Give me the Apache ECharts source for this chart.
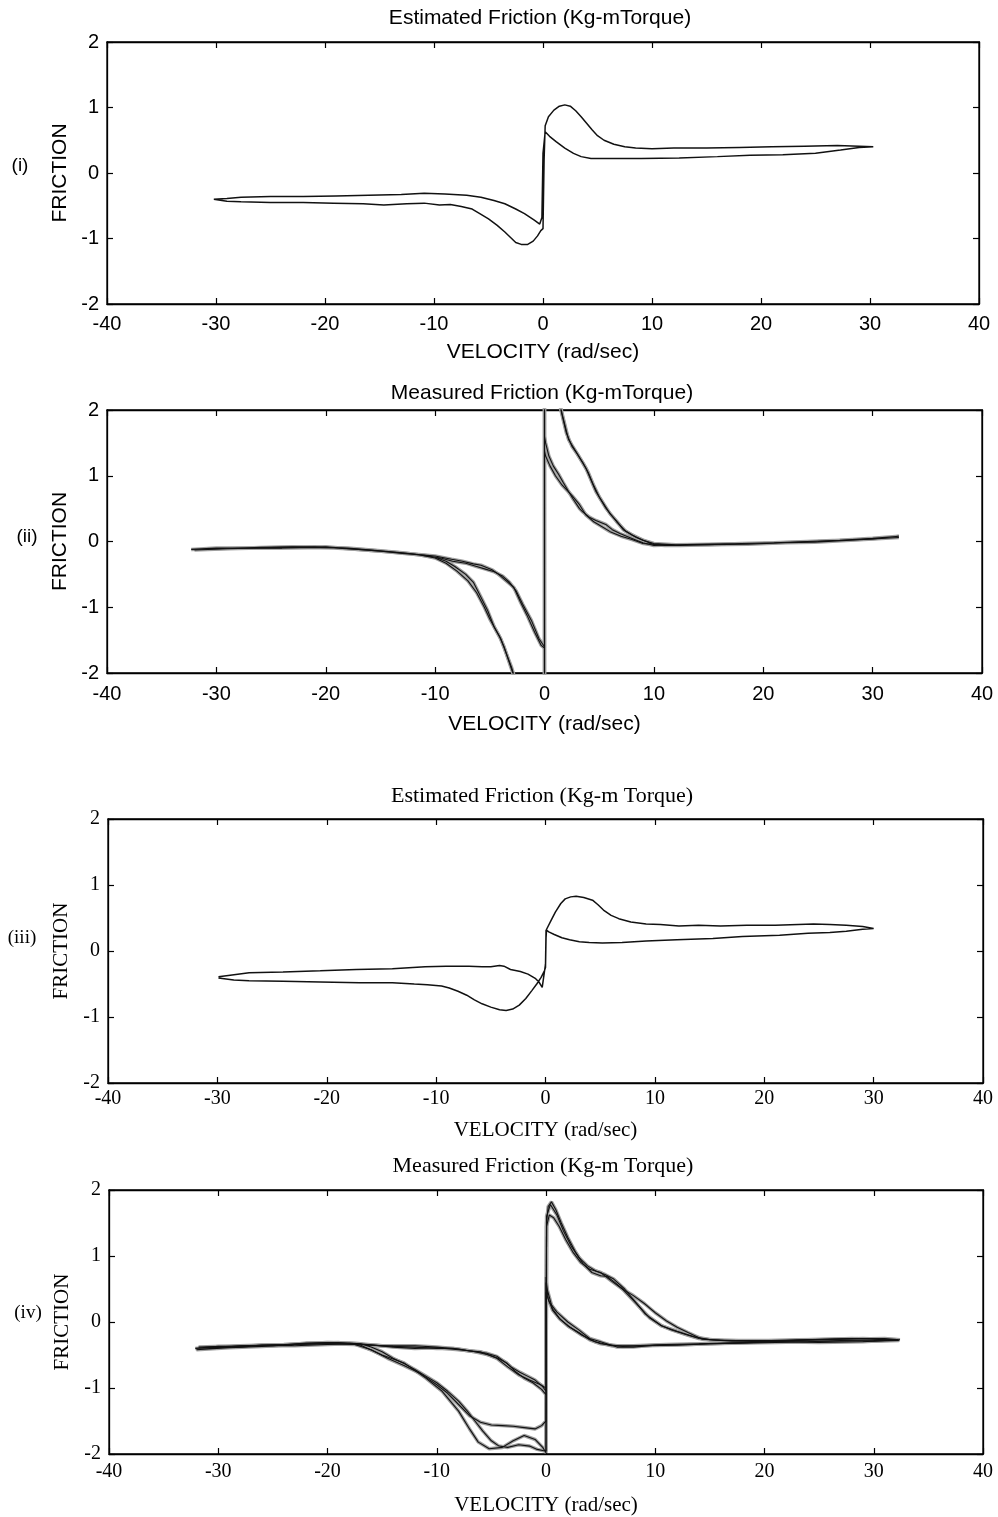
<!DOCTYPE html>
<html><head><meta charset="utf-8">
<script src="https://cdn.jsdelivr.net/npm/echarts@6/dist/echarts.min.js"></script>
<style>html,body{margin:0;padding:0;background:#fff}#c{width:998px;height:1517px}</style>
</head><body><div id="c"></div>
<script>
// ---------- tick labels / categories ----------
const xTicks = [-40, -30, -20, -10, 0, 10, 20, 30, 40];
const yTicks = [-2, -1, 0, 1, 2];
const panelTitles = ["Estimated Friction (Kg-mTorque)", "Measured Friction (Kg-mTorque)", "Estimated Friction (Kg-m Torque)", "Measured Friction (Kg-m Torque)"];
const panelTags = ["(i)", "(ii)", "(iii)", "(iv)"];
const xName = "VELOCITY (rad/sec)";
const yName = "FRICTION";

// ---------- series values: [velocity, friction] ----------
const p1Loop = [
[-30.2,-0.40],[-29,-0.43],[-27.7,-0.44],[-25,-0.45],[-22,-0.45],[-19.2,-0.46],[-16.5,-0.47],[-14.6,-0.49],[-12.5,-0.47],[-10.9,-0.46],[-9.5,-0.49],[-8.5,-0.48],[-7.5,-0.51],[-6.5,-0.55],[-5.8,-0.62],[-5,-0.7],[-4.2,-0.8],[-3.5,-0.9],[-3,-0.98],[-2.5,-1.06],[-2,-1.09],[-1.4,-1.09],[-0.9,-1.04],[-0.5,-0.96],[-0.2,-0.88],[0,-0.85],[0.1,0.2],[0.2,0.72],[0.5,0.86],[1,0.96],[1.5,1.02],[2,1.04],[2.5,1.02],[3,0.95],[3.5,0.86],[4,0.76],[4.5,0.66],[5,0.57],[5.6,0.5],[6.5,0.44],[7.5,0.4],[8.5,0.38],[10,0.37],[12,0.38],[15,0.38],[18,0.39],[21,0.4],[24,0.41],[27,0.42],[29,0.41],[30.3,0.4],
[29,0.39],[27.3,0.35],[25,0.3],[22,0.28],[19,0.27],[16,0.25],[12.5,0.23],[9,0.22],[6,0.22],[4.4,0.22],[3.5,0.25],[2.8,0.3],[2,0.38],[1.2,0.48],[0.6,0.56],[0.2,0.63],[0,0.3],[-0.1,-0.68],[-0.3,-0.78],[-0.8,-0.72],[-1.7,-0.62],[-2.5,-0.55],[-3.5,-0.47],[-4.5,-0.42],[-5.7,-0.37],[-7,-0.34],[-9,-0.32],[-10.9,-0.31],[-13,-0.33],[-16,-0.34],[-19,-0.35],[-22,-0.36],[-25,-0.36],[-27.7,-0.37],[-29,-0.39],[-30.2,-0.40]
];

const p2LoopA = [
[-32.3,-0.12],[-30,-0.1],[-27,-0.1],[-24,-0.09],[-21,-0.08],[-18,-0.1],[-15,-0.14],[-13,-0.17],[-11.5,-0.2],[-10,-0.25],[-9,-0.33],[-8,-0.45],[-7,-0.6],[-6.2,-0.78],[-5.5,-1.0],[-5,-1.18],[-4.5,-1.33],[-4,-1.48],[-3.5,-1.7],[-3,-1.92],[-2.5,-2.2],[-1,-2.6],[0,-2.6],[0,2.6],[1,2.4],[1.5,2.0],[2,1.65],[2.5,1.45],[3,1.33],[3.5,1.2],[4,1.05],[4.5,0.85],[5,0.68],[5.5,0.55],[6,0.42],[6.6,0.31],[7.2,0.18],[8,0.1],[9,0.02],[10,-0.03],[12,-0.05],[15,-0.05],[18,-0.03],[21,-0.02],[24,0],[27,0.02],[30,0.05],[32.4,0.08],
[30,0.04],[27,0.02],[24,0],[21,-0.02],[18,-0.03],[15,-0.04],[12,-0.05],[10,-0.06],[9,-0.02],[8.4,0.02],[7.5,0.08],[6.9,0.12],[6.2,0.18],[5.6,0.26],[4.7,0.32],[4.1,0.37],[3.5,0.45],[3.2,0.5],[2.6,0.65],[2.2,0.76],[1.7,0.9],[1.3,1.02],[0.8,1.15],[0.4,1.3],[0.1,1.5],[0,1.6],[0,-1.62],[-0.3,-1.58],[-0.9,-1.38],[-1.6,-1.12],[-2.2,-0.92],[-2.8,-0.7],[-3.5,-0.6],[-4.2,-0.5],[-4.8,-0.43],[-5.8,-0.36],[-6.5,-0.34],[-7.5,-0.3],[-8.5,-0.27],[-10,-0.22],[-12,-0.19],[-14,-0.16],[-17,-0.12],[-20,-0.08],[-24,-0.1],[-28,-0.1],[-32.3,-0.12]
];
const p2LoopB = [
[-32,-0.13],[-29,-0.11],[-26,-0.09],[-23,-0.08],[-20,-0.09],[-17,-0.12],[-14,-0.16],[-12,-0.19],[-10,-0.24],[-9,-0.3],[-8.2,-0.38],[-7.2,-0.5],[-6.5,-0.62],[-5.8,-0.85],[-5.2,-1.05],[-4.6,-1.3],[-4.1,-1.45],[-3.7,-1.6],[-3.3,-1.8],[-2.9,-2.0],[-2.5,-2.3],[0,-2.6],[0,2.6],[1.2,2.3],[1.6,1.95],[2.2,1.55],[2.9,1.36],[3.8,1.11],[4.7,0.76],[5.6,0.51],[6.6,0.3],[7.4,0.16],[8.4,0.06],[9.9,-0.04],[12.4,-0.06],[15,-0.05],[18.6,-0.04],[22,-0.02],[24.7,-0.01],[28,0.02],[32.4,0.06],
[29,0.03],[25,0],[20,-0.03],[15,-0.05],[11,-0.06],[9,-0.03],[8,0.03],[7,0.08],[6,0.15],[5,0.25],[4.5,0.3],[3.8,0.4],[3.2,0.56],[2.5,0.7],[1.6,0.86],[1,1.0],[0.5,1.15],[0.1,1.3],[0,1.38],[0,-1.6],[-0.5,-1.48],[-1.2,-1.2],[-2,-0.95],[-2.6,-0.75],[-3.2,-0.62],[-3.8,-0.53],[-4.6,-0.46],[-5.4,-0.42],[-6.2,-0.38],[-7.2,-0.33],[-8.4,-0.3],[-9.5,-0.25],[-11,-0.21],[-13,-0.18],[-16,-0.13],[-19,-0.1],[-22,-0.09],[-26,-0.1],[-29,-0.11],[-32,-0.13]
];

const p3Loop = [
[-29.9,-0.41],[-28.5,-0.44],[-27.1,-0.45],[-24,-0.46],[-20.6,-0.47],[-17,-0.48],[-14,-0.48],[-12,-0.5],[-10.8,-0.51],[-9.5,-0.53],[-8.8,-0.56],[-8,-0.61],[-7.2,-0.67],[-6.5,-0.74],[-5.8,-0.8],[-5,-0.85],[-4.2,-0.89],[-3.6,-0.9],[-3,-0.88],[-2.4,-0.82],[-1.8,-0.72],[-1.25,-0.6],[-0.8,-0.5],[-0.4,-0.4],[-0.1,-0.3],[0,-0.25],[0.05,0.2],[0.1,0.33],[0.5,0.46],[0.9,0.59],[1.4,0.72],[1.8,0.79],[2.3,0.82],[2.8,0.83],[3.5,0.81],[4.3,0.77],[4.8,0.7],[5.3,0.62],[6,0.54],[6.7,0.49],[7.8,0.44],[9.2,0.41],[10.5,0.4],[12.2,0.38],[14,0.39],[16,0.38],[18.4,0.39],[21,0.39],[24.5,0.41],[26,0.4],[27.5,0.39],[29,0.37],[30,0.34],
[29,0.33],[27.5,0.3],[26,0.28],[24,0.27],[21.4,0.24],[18,0.22],[15.3,0.19],[12,0.17],[9.2,0.15],[7,0.13],[5.2,0.12],[4,0.13],[3.1,0.14],[2.2,0.17],[1.5,0.2],[0.8,0.25],[0.3,0.29],[0.05,0.32],[0,-0.2],[-0.3,-0.55],[-0.6,-0.47],[-0.9,-0.42],[-1.6,-0.35],[-2.3,-0.31],[-3.2,-0.28],[-3.8,-0.23],[-4.2,-0.22],[-5,-0.24],[-5.8,-0.24],[-7,-0.23],[-9.1,-0.23],[-11,-0.24],[-14,-0.27],[-17.3,-0.28],[-20.6,-0.3],[-24,-0.32],[-27.1,-0.33],[-29,-0.37],[-29.9,-0.39]
];

const p4LoopA = [
[-32.1,-0.4],[-30,-0.37],[-28,-0.38],[-26,-0.35],[-24,-0.35],[-22,-0.33],[-20,-0.32],[-18,-0.32],[-17,-0.33],[-16,-0.38],[-15,-0.45],[-14,-0.55],[-13,-0.63],[-12,-0.72],[-11,-0.82],[-10,-0.92],[-9,-1.05],[-8,-1.2],[-7.2,-1.35],[-6.5,-1.5],[-5.8,-1.65],[-5,-1.8],[-4.3,-1.88],[-3.5,-1.9],[-2.5,-1.86],[-1.5,-1.88],[-0.8,-1.93],[-0.2,-1.95],[0,-1.95],[0.05,1.5],[0.2,1.75],[0.5,1.82],[0.9,1.7],[1.4,1.5],[2,1.28],[2.7,1.06],[3.4,0.88],[4.2,0.75],[5,0.7],[5.6,0.69],[6.3,0.6],[7,0.5],[7.8,0.36],[8.6,0.22],[9.5,0.06],[10.5,-0.05],[11.5,-0.12],[12.8,-0.19],[14,-0.25],[16,-0.28],[18,-0.28],[20,-0.28],[22,-0.28],[24,-0.27],[26,-0.26],[28,-0.25],[30,-0.26],[32.3,-0.28],
[30,-0.29],[27,-0.28],[24,-0.3],[21,-0.31],[18,-0.32],[15,-0.33],[12,-0.35],[9,-0.36],[7,-0.37],[6,-0.35],[5,-0.33],[4,-0.27],[3,-0.16],[2,-0.06],[1.2,0.06],[0.6,0.18],[0.2,0.35],[0.05,0.55],[0,0.6],[0,-1.05],[-0.3,-0.98],[-1,-0.88],[-1.7,-0.82],[-2.4,-0.76],[-3.2,-0.68],[-3.8,-0.6],[-4.5,-0.52],[-5.5,-0.47],[-7,-0.44],[-8.5,-0.4],[-10,-0.4],[-12,-0.38],[-14,-0.37],[-16,-0.35],[-18,-0.33],[-20,-0.34],[-23,-0.36],[-26,-0.36],[-29,-0.38],[-32.1,-0.4]
];
const p4LoopB = [
[-32,-0.42],[-29,-0.39],[-26,-0.37],[-23,-0.34],[-20,-0.33],[-17.5,-0.34],[-16,-0.42],[-14.5,-0.55],[-13,-0.66],[-11.5,-0.78],[-10,-0.95],[-9,-1.08],[-8,-1.25],[-7,-1.42],[-6,-1.52],[-5,-1.56],[-4,-1.57],[-3,-1.58],[-2,-1.6],[-1,-1.62],[-0.4,-1.57],[0,-1.5],[0.05,1.45],[0.3,1.62],[0.7,1.58],[1.2,1.45],[1.8,1.25],[2.5,1.05],[3.2,0.9],[4,0.8],[5,0.75],[6,0.62],[7,0.5],[8,0.4],[9,0.28],[10,0.14],[11,0.02],[12,-0.08],[13,-0.16],[14.3,-0.26],[17,-0.29],[21,-0.29],[25,-0.27],[29,-0.25],[32.2,-0.27],
[29,-0.3],[25,-0.31],[21,-0.3],[17,-0.32],[13,-0.34],[10,-0.35],[8,-0.38],[6.5,-0.38],[5,-0.3],[4,-0.25],[3,-0.12],[2,0],[1,0.15],[0.3,0.3],[0,0.45],[0,-1.0],[-0.5,-0.95],[-1.5,-0.88],[-2.5,-0.8],[-3.5,-0.68],[-4.5,-0.55],[-6,-0.45],[-8,-0.42],[-10,-0.39],[-12,-0.4],[-14,-0.38],[-17,-0.33],[-20,-0.31],[-24,-0.34],[-28,-0.36],[-32,-0.42]
];
const p4LoopC = [
[-31.8,-0.38],[-28,-0.36],[-25,-0.36],[-22,-0.32],[-19,-0.31],[-17,-0.35],[-15,-0.5],[-13,-0.62],[-11,-0.85],[-9.5,-1.05],[-8,-1.35],[-7,-1.62],[-6.2,-1.82],[-5.2,-1.92],[-4,-1.9],[-3,-1.8],[-2,-1.72],[-1,-1.78],[-0.3,-1.9],[0,-1.98],[0.05,1.6],[0.4,1.78],[1,1.62],[1.6,1.38],[2.3,1.15],[3,0.98],[3.8,0.85],[4.6,0.77],[5.4,0.72],[6.2,0.65],[7.2,0.5],[8.2,0.3],[9.1,0.12],[10.6,-0.06],[12,-0.14],[13.5,-0.22],[15,-0.27],[19,-0.29],[23,-0.27],[27,-0.26],[31,-0.25],[32.4,-0.27],
[30,-0.28],[26,-0.29],[22,-0.29],[18,-0.31],[14,-0.33],[11,-0.34],[8,-0.36],[6,-0.36],[4.5,-0.3],[3.3,-0.2],[2.2,-0.08],[1.3,0.04],[0.6,0.2],[0.1,0.5],[0,0.68],[0,-1.1],[-0.4,-1.02],[-1.2,-0.92],[-2,-0.85],[-2.8,-0.75],[-3.6,-0.62],[-4.4,-0.55],[-5.2,-0.5],[-6.5,-0.45],[-8,-0.41],[-10,-0.38],[-12,-0.36],[-15,-0.36],[-18,-0.33],[-21,-0.33],[-25,-0.35],[-29,-0.37],[-31.8,-0.38]
];

const panelSeries = [[p1Loop], [p2LoopA, p2LoopB], [p3Loop], [p4LoopA, p4LoopB, p4LoopC]];

// ---------- layout ----------
const SANS = "'Liberation Sans',Arial,sans-serif";
const SERIF = "'Liberation Serif','DejaVu Serif',serif";
const grids = [
  {left:107, top:42, width:872, height:262, font:SANS, titleSize:21, xMargin:10, nameGap:38, yNameGap:33, measured:false, title:[540,18], tag:[20,166]},
  {left:107, top:410, width:875, height:263, font:SANS, titleSize:21, xMargin:11, nameGap:41, yNameGap:29, measured:true, title:[542,393], tag:[27,537]},
  {left:108, top:819, width:875, height:264, font:SERIF, titleSize:22, xMargin:6, nameGap:37, yNameGap:29, measured:false, title:[542,796], tag:[22,938]},
  {left:109, top:1190, width:874, height:264, font:SERIF, titleSize:22, xMargin:8, nameGap:41, yNameGap:30, measured:true, title:[543,1166], tag:[28,1313]}
];

const chart = echarts.init(document.getElementById('c'), null, {renderer:'canvas'});
const option = {backgroundColor:'#fff', animation:false, grid:[], xAxis:[], yAxis:[], series:[], graphic:[]};

grids.forEach((g, i) => {
  option.grid.push({left:g.left, top:g.top, width:g.width, height:g.height, show:true, borderColor:'#000', borderWidth:1.3, backgroundColor:'#fff'});
  const lab = {color:'#000', fontFamily:g.font, fontSize:20};
  const nameStyle = {color:'#000', fontFamily:g.font, fontSize:21};
  const base = {type:'value', gridIndex:i, min:xTicks[0], max:xTicks[xTicks.length-1], interval:10, splitLine:{show:false},
    axisLine:{show:true, onZero:false, lineStyle:{color:'#000', width:1.3}}, axisTick:{show:true, inside:true, length:6, lineStyle:{color:'#000', width:1.2}}};
  option.xAxis.push(Object.assign({}, base, {position:'bottom', axisLabel:Object.assign({margin:g.xMargin}, lab),
    name:xName, nameLocation:'middle', nameGap:g.nameGap, nameTextStyle:nameStyle}));
  option.xAxis.push(Object.assign({}, base, {position:'top', axisLabel:{show:false}}));
  const ybase = {type:'value', gridIndex:i, min:yTicks[0], max:yTicks[yTicks.length-1], interval:1, splitLine:{show:false},
    axisLine:{show:true, onZero:false, lineStyle:{color:'#000', width:1.3}}, axisTick:{show:true, inside:true, length:6, lineStyle:{color:'#000', width:1.2}}};
  option.yAxis.push(Object.assign({}, ybase, {position:'left', axisLabel:Object.assign({margin:8}, lab),
    name:yName, nameLocation:'middle', nameGap:g.yNameGap, nameTextStyle:nameStyle}));
  option.yAxis.push(Object.assign({}, ybase, {position:'right', axisLabel:{show:false}}));
  if (g.measured) {
    panelSeries[i].forEach(d => {
      option.series.push({type:'line', xAxisIndex:i*2, yAxisIndex:i*2, data:d, showSymbol:false, clip:true, silent:true,
        lineStyle:{color:'#a0a0a0', width:3.5}, z:1});
    });
  }
  panelSeries[i].forEach(d => {
    option.series.push({type:'line', xAxisIndex:i*2, yAxisIndex:i*2, data:d, showSymbol:false, clip:true,
      lineStyle:{color:'#111', width:g.measured ? 1.1 : 1.5}, z:2});
  });
  option.graphic.push({type:'text', x:g.title[0], y:g.title[1], style:{text:panelTitles[i], font:g.titleSize + 'px ' + g.font, fill:'#000', textAlign:'center', textVerticalAlign:'middle'}});
  option.graphic.push({type:'text', x:g.tag[0], y:g.tag[1],
    style:{text:panelTags[i], font:'19px ' + g.font, fill:'#000', textAlign:'center', textVerticalAlign:'middle'}});
});
chart.setOption(option);
</script></body></html>
